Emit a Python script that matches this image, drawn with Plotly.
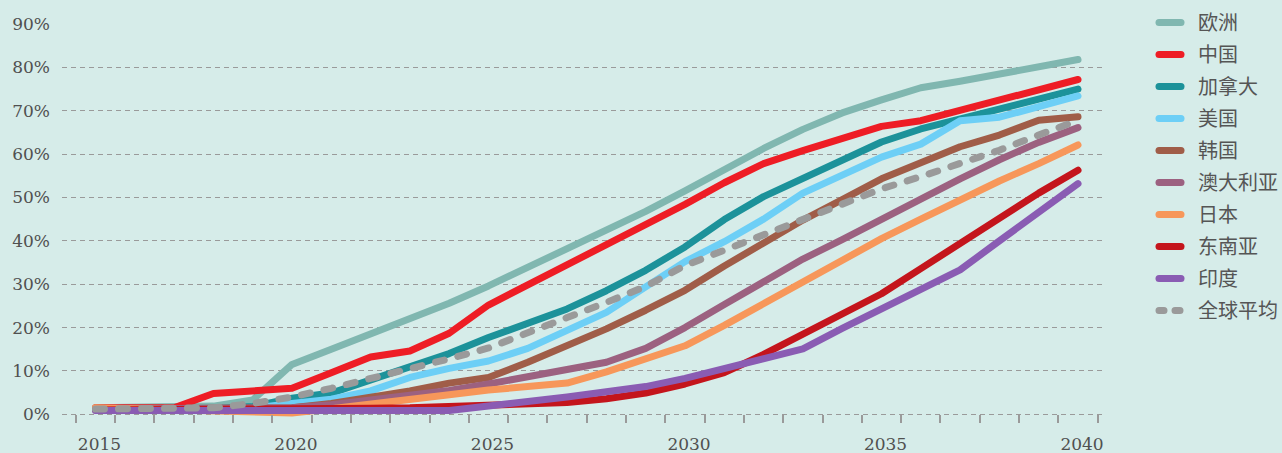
import plotly.graph_objects as go

years = list(range(2015, 2041))

europe = [1.5, 1.6, 1.7, 1.9, 3.3, 11.5, 15.0, 18.5, 22.0, 25.6, 29.6, 33.8, 38.0, 42.3, 46.8, 51.5,
          56.5, 61.3, 65.7, 69.5, 72.5, 75.3, 76.8, 78.6, 80.2, 81.8]
china = [1.5, 1.5, 1.5, 4.8, 5.3, 6.0, 9.6, 13.2, 14.6, 18.7, 25.2, 29.8, 34.2, 38.8, 43.6, 48.4,
         53.4, 57.8, 60.8, 63.6, 66.4, 67.7, 70.0, 72.4, 74.8, 77.2]
canada = [1.2, 1.2, 1.2, 1.3, 1.8, 3.7, 4.9, 7.8, 10.7, 14.0, 17.7, 21.0, 24.3, 28.5, 33.2, 38.6,
          44.9, 50.2, 54.4, 58.6, 62.8, 65.8, 68.0, 70.2, 72.5, 75.0]
usa = [1.2, 1.2, 1.2, 1.2, 1.4, 2.5, 3.5, 5.4, 8.5, 10.6, 12.3, 15.2, 19.2, 23.5, 29.4, 35.2,
       39.8, 45.0, 51.0, 55.0, 59.3, 62.3, 67.7, 68.5, 70.8, 73.4]
korea = [1.2, 1.2, 1.2, 1.2, 1.3, 1.5, 2.5, 3.8, 5.4, 7.2, 8.5, 12.0, 15.8, 19.7, 24.0, 28.6,
         34.2, 39.6, 44.8, 49.5, 54.3, 58.0, 61.7, 64.4, 67.8, 68.6]
australia = [1.2, 1.2, 1.2, 1.2, 1.2, 1.5, 2.2, 3.2, 4.2, 5.5, 7.0, 8.7, 10.3, 12.0, 15.2, 20.0,
             25.3, 30.6, 35.8, 40.3, 45.0, 49.9, 54.3, 58.7, 62.7, 66.1]
japan = [1.5, 1.3, 1.0, 0.8, 0.5, 0.3, 1.3, 2.5, 3.3, 4.5, 5.6, 6.5, 7.2, 9.8, 12.7, 15.8,
         20.5, 25.5, 30.5, 35.6, 40.5, 45.0, 49.6, 53.8, 57.8, 62.1]
se_asia = [1.0, 1.0, 1.0, 1.0, 1.0, 1.0, 1.2, 1.4, 1.5, 1.8, 2.2, 2.5, 2.7, 3.6, 4.9, 7.0,
           9.6, 13.8, 18.5, 23.5, 27.8, 33.6, 39.4, 45.3, 51.0, 56.3]
india = [0.9, 0.9, 0.9, 0.9, 0.9, 0.9, 0.8, 0.8, 0.8, 0.9, 1.9, 2.8, 4.0, 5.2, 6.4, 8.3,
         10.5, 12.7, 15.1, 19.8, 24.2, 28.7, 33.3, 40.0, 46.5, 53.2]
global_avg = [1.2, 1.2, 1.2, 1.5, 2.5, 4.0, 6.0, 8.2, 10.6, 12.8, 15.3, 19.0, 22.3, 25.8, 29.5, 34.3,
              37.8, 41.3, 44.9, 48.6, 52.0, 54.8, 57.8, 60.9, 64.4, 67.8]

series_names = ["欧洲", "中国", "加拿大", "美国", "韩国", "澳大利亚", "日本", "东南亚", "印度", "全球平均"]
series_values = [europe, china, canada, usa, korea, australia, japan, se_asia, india, global_avg]
series_colors = ["#80B7B0", "#EE1D25", "#1C929A", "#6DCFF6", "#A05D48",
                 "#9C6180", "#F7975A", "#C4151C", "#8A5CB3", "#9A9A9A"]

y_ticks = list(range(0, 100, 10))
y_labels = [f"{v}%" for v in y_ticks]
x_ticks = [2015, 2020, 2025, 2030, 2035, 2040]

BG = "#D6ECE9"
GRID = "#9A9A9A"
TICK_TEXT = "#505050"

fig = go.Figure()
for name, vals, color in zip(series_names, series_values, series_colors):
    dashed = name == "全球平均"
    fig.add_trace(go.Scatter(
        x=years, y=vals, name=name, mode="lines", legendgroup=name,
        line=dict(color=color, width=7, dash="9px,14px" if dashed else "solid"),
        hoverinfo="skip",
    ))

fig.update_layout(
    width=1282, height=453, autosize=False,
    margin=dict(l=62, r=179, t=24, b=30, autoexpand=False),
    paper_bgcolor=BG, plot_bgcolor=BG,
    showlegend=True,
    legend=dict(
        xref="container", yref="container", x=1148 / 1282, y=1 - 3 / 453,
        xanchor="left", yanchor="top",
        font=dict(family="Noto Sans CJK SC", size=20, color="#555555"),
        bgcolor="rgba(0,0,0,0)", traceorder="grouped", tracegroupgap=3,
        itemwidth=40, maxheight=1.0,
    ),
    xaxis=dict(
        range=[2014.148, 2040.636], tickmode="array", tickvals=x_ticks,
        ticks="", showgrid=False, zeroline=False, showline=False, automargin=False,
        tickfont=dict(family="DejaVu Serif", size=17, color=TICK_TEXT),
        ticklabelshift=4, ticklabelstandoff=9,
        minor=dict(ticks="inside", ticklen=8, tickwidth=1.5, tickcolor=GRID,
                   tick0=2014.5, dtick=1, showgrid=False),
    ),
    yaxis=dict(
        range=[-2, 90], tickmode="array", tickvals=y_ticks, ticktext=y_labels,
        ticks="", showgrid=True, gridcolor=GRID, gridwidth=1, griddash="5px,4px",
        zeroline=False, showline=False, automargin=False,
        tickfont=dict(family="DejaVu Serif", size=17, color=TICK_TEXT),
        ticklabelstandoff=11,
    ),
)

# Round line ends/joins, and shorter legend swatches so the rounded caps stay compact
round_caps = """
var gd = document.getElementById('{plot_id}');
gd.querySelectorAll('.scatterlayer .js-line').forEach(function (p) {
  p.style.strokeLinecap = 'round';
  p.style.strokeLinejoin = 'round';
});
gd.querySelectorAll('.legend .js-line').forEach(function (p) {
  p.style.strokeLinecap = 'round';
  p.setAttribute('d', 'M11,0h22');
  if (p.style.strokeDasharray && p.style.strokeDasharray !== 'none') {
    p.style.strokeDasharray = '5px,11px';
  }
});
"""

fig.write_html("out.html", post_script=round_caps)
